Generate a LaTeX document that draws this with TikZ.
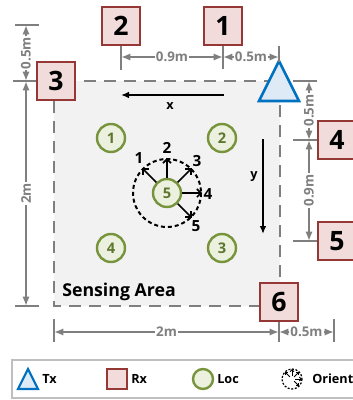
\documentclass[tikz,border=0pt]{standalone}
\usepackage{fontspec}
\setmainfont{Open Sans}
\usetikzlibrary{arrows.meta}

\definecolor{rxred}{HTML}{953735}
\definecolor{rxfill}{HTML}{F2DCDB}
\definecolor{txblue}{HTML}{0070C0}
\definecolor{txfill}{HTML}{DEEBF7}
\definecolor{locgreen}{HTML}{77933C}
\definecolor{locfill}{HTML}{EBF1DE}
\definecolor{dimgray}{HTML}{7F7F7F}
\definecolor{areagray}{HTML}{F2F2F2}

\tikzset{
    rxbox/.style={draw=rxred, fill=rxfill, line width=2pt, minimum width=28.5pt,
        minimum height=28.5pt, inner sep=0pt, font=\fontsize{20}{20}\selectfont\bfseries},
    txtri/.style={draw=txblue, fill=txfill, line width=2pt, line join=miter},
    locnode/.style={circle, draw=locgreen, fill=locfill, line width=1.8pt,
        minimum size=21pt, inner sep=0pt, text=locgreen!80!black,
        font=\fontsize{11}{11}\selectfont\bfseries},
    areabox/.style={fill=areagray, draw=dimgray, line width=1.7pt,
        dash pattern=on 9pt off 6pt},
    extline/.style={draw=dimgray, line width=1.5pt},
    dimline/.style={draw=dimgray, line width=1.5pt,
        {Latex[length=7pt,width=5.5pt]}-{Latex[length=7pt,width=5.5pt]}},
    dimlabel/.style={fill=white, inner sep=1pt, text=dimgray,
        font=\fontsize{10}{10}\selectfont\bfseries},
    axisarrow/.style={draw=black, line width=1.2pt, -{Latex[length=6pt,width=5pt]}},
    axislabel/.style={font=\fontsize{9.5}{9.5}\selectfont\bfseries},
    orientarrow/.style={line width=1.3pt, -{Straight Barb[length=3pt,width=6pt]}},
    orientlabel/.style={inner sep=0pt, font=\fontsize{11.5}{11.5}\selectfont\bfseries},
    legendtext/.style={anchor=west, inner sep=0pt, font=\fontsize{9.5}{9.5}\selectfont\bfseries},
}

\begin{document}
\begin{tikzpicture}[x=0.75pt, y=-0.75pt]
    \useasboundingbox (0,0) rectangle (353,400);

    %========================
    % Sensing area
    %========================
    \draw[areabox] (54,81) rectangle (280,306);
    \node[anchor=west, inner sep=0pt, font=\fontsize{13.3}{13.3}\selectfont\bfseries]
        (sensing) at (62,292) {Sensing Area};

    % Moving directions
    \coordinate (xstart) at (224,95);
    \coordinate (xend) at (121,95);
    \draw[axisarrow] (xstart) -- (xend);
    \node[axislabel] (xlab) at (170,106) {x};

    \coordinate (ystart) at (263,139);
    \coordinate (yend) at (263,234);
    \draw[axisarrow] (ystart) -- (yend);
    \node[axislabel] (ylab) at (254,177) {y};

    %========================
    % Locations
    %========================
    \node[locnode] (loc1) at (111,138) {1};
    \node[locnode] (loc2) at (222,138) {2};
    \node[locnode] (loc3) at (222,248) {3};
    \node[locnode] (loc4) at (111,248) {4};
    \node[locnode] (loc5) at (167,193) {5};

    % Orientations at location 5 (y axis points down, so angles are negated)
    \draw[line width=1.5pt, dash pattern=on 3pt off 2.2pt] (loc5) circle[radius=34];
    \foreach \ang in {135, 90, 45, 0, -45} {
        \draw[orientarrow] (loc5.\ang) -- ++(-\ang:20);
    }
    \node[orientlabel] (ol1) at (139,158) {1};
    \node[orientlabel] (ol2) at (167,148) {2};
    \node[orientlabel] (ol3) at (197,161) {3};
    \node[orientlabel] (ol4) at (208,194) {4};
    \node[orientlabel] (ol5) at (196,226) {5};

    %========================
    % Tx and Rx
    %========================
    \coordinate (tx) at (279,81);
    \draw[txtri] (tx) ++(-20,20) -- ++(20,-40) -- ++(20,40) -- cycle;

    \node[rxbox] (rx1) at (223,26) {1};
    \node[rxbox] (rx2) at (121,26) {2};
    \node[rxbox] (rx3) at (56,81) {3};
    \node[rxbox] (rx4) at (337,140) {4};
    \node[rxbox] (rx5) at (337,241) {5};
    \node[rxbox] (rx6) at (279,302) {6};

    %========================
    % Dimensions
    %========================
    % top
    \coordinate (t1) at (223,69);
    \coordinate (t2) at (121,70);
    \coordinate (ttx) at (279,46);
    \draw[extline] (rx1.south) -- (t1);
    \draw[extline] (rx2.south) -- (t2);
    \draw[extline] (ttx) -- (279,62);
    \draw[dimline] (121,57) -- node[dimlabel] {0.9m} (223,57);
    \draw[dimline] (223,57) -- node[dimlabel] {0.5m} (279,57);

    % left
    \coordinate (ltop) at (15,25);
    \coordinate (lbot) at (15,306);
    \draw[extline] (ltop) -- ++(24,0);
    \draw[extline] (13,81) -- (rx3.west);
    \draw[extline] (lbot) -- ++(24,0);
    \draw[dimline] (26,25) -- node[dimlabel, rotate=90] {0.5m} (26,81);
    \draw[dimline] (26,81) -- node[dimlabel, rotate=90] {2m} (26,306);

    % right
    \draw[extline] (293,81) -- (317,81);
    \draw[extline] (293,140) -- (rx4.west);
    \draw[extline] (293,241) -- (rx5.west);
    \draw[dimline] (309,81) -- node[dimlabel, rotate=90] {0.5m} (309,140);
    \draw[dimline] (309,140) -- node[dimlabel, rotate=90] {0.9m} (309,241);

    % bottom
    \coordinate (b1) at (54,319);
    \coordinate (b3) at (334,319);
    \draw[extline] (b1) -- ++(0,23);
    \draw[extline] (rx6.south) -- (279,342);
    \draw[extline] (b3) -- ++(0,23);
    \draw[dimline] (54,332) -- node[dimlabel] {2m} (279,332);
    \draw[dimline] (279,332) -- node[dimlabel] {0.5m} (334,332);

    %========================
    % Legend
    %========================
    \draw[draw=black!25, line width=0.8pt] (12,360) rectangle (360,398);

    \coordinate (legtx) at (28,379);
    \draw[txtri, line width=1.6pt] (legtx) ++(-10,10) -- ++(10,-20) -- ++(10,20) -- cycle;
    \node[legendtext] (ltx) at (42,379) {Tx};

    \node[rxbox, minimum width=15pt, minimum height=15pt, line width=1.5pt] (lrx) at (117,379) {};
    \node[legendtext] (lrxt) at (131,379) {Rx};

    \node[locnode, minimum size=15pt] (lloc) at (203,379) {};
    \node[legendtext] (llct) at (217,379) {Loc};

    \coordinate (lor) at (292,379);
    \draw[line width=0.9pt, dash pattern=on 1.5pt off 1.2pt] (lor) circle[radius=10];
    \foreach \ang in {135, 90, 45, 0, -45} {
        \draw[line width=0.7pt, -{Straight Barb[length=1.5pt,width=3pt]}] (lor) ++(-\ang:3) -- ++(-\ang:7);
    }
    \node[legendtext] (lort) at (312,379) {Orient};

\end{tikzpicture}
\end{document}
